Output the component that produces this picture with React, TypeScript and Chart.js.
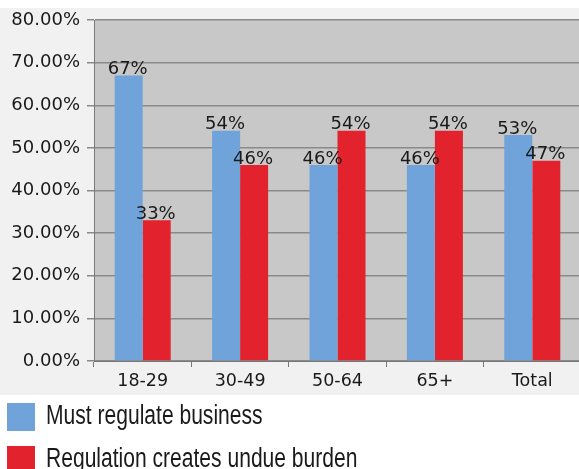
import React, { useEffect, useRef } from "react";
import { Chart, registerables } from "chart.js";

Chart.register(...registerables);

const categories = ["18-29", "30-49", "50-64", "65+", "Total"];
const mustRegulate = [67, 54, 46, 46, 53];
const undueBurden = [33, 46, 54, 54, 47];
const seriesNames = ["Must regulate business", "Regulation creates undue burden"];
const yMin = 0;
const yMax = 80;
const yStep = 10;

const BLUE = "#6fa3d9";
const RED = "#e2232d";
const seriesColors = [BLUE, RED];

const bgPlugin = {
  id: "bgPlugin",
  beforeDraw(chart: any) {
    const { ctx, chartArea, width, height } = chart;
    ctx.save();
    ctx.fillStyle = "#ffffff";
    ctx.fillRect(0, 0, width, height);
    ctx.fillStyle = "#f1f1f1";
    ctx.fillRect(0, 8, width, 387);
    ctx.fillStyle = "#c8c8c8";
    ctx.fillRect(chartArea.left, chartArea.top, chartArea.right - chartArea.left, chartArea.bottom - chartArea.top);
    ctx.restore();
  },
};

const labelPlugin = {
  id: "barLabels",
  afterDatasetsDraw(chart: any) {
    const ctx = chart.ctx;
    ctx.save();
    ctx.font = '18px "DejaVu Sans"';
    ctx.fillStyle = "#1a1a1a";
    ctx.textAlign = "center";
    ctx.textBaseline = "bottom";
    chart.data.datasets.forEach((ds: any, i: number) => {
      chart.getDatasetMeta(i).data.forEach((el: any, j: number) => {
        ctx.fillText(`${ds.data[j]}%`, el.x - 1, el.y + 3);
      });
    });
    ctx.restore();
  },
};

export default function App() {
  const ref = useRef<HTMLCanvasElement | null>(null);

  useEffect(() => {
    if (!ref.current) return;
    const chart = new Chart(ref.current, {
      type: "bar",
      data: {
        labels: categories,
        datasets: [
          { label: seriesNames[0], data: mustRegulate, backgroundColor: BLUE, borderWidth: 0 },
          { label: seriesNames[1], data: undueBurden, backgroundColor: RED, borderWidth: 0 },
        ],
      },
      options: {
        responsive: false,
        animation: false,
        devicePixelRatio: 1,
        layout: { padding: { top: 20, right: 9, left: 0, bottom: 81 } },
        datasets: { bar: { categoryPercentage: 0.575, barPercentage: 1 } },
        plugins: {
          tooltip: { enabled: false },
          legend: { display: false },
        },
        scales: {
          x: {
            grid: { drawOnChartArea: false, drawTicks: true, tickLength: 6, color: "#777777", offset: true },
            border: { color: "#777777", width: 1 },
            ticks: {
              color: "#1a1a1a",
              padding: 4,
              font: { family: "'DejaVu Sans'", size: 17.5 },
            },
            afterFit: (scale: any) => {
              scale.height = 27;
            },
          },
          y: {
            min: yMin,
            max: yMax,
            grid: { color: "#8a8a8a", lineWidth: 1.5, tickLength: 7 },
            border: { color: "#7a7a7a", width: 1 },
            ticks: {
              stepSize: yStep,
              color: "#1a1a1a",
              padding: 7,
              font: { family: "'DejaVu Sans'", size: 18 },
              callback: (v: any) => Number(v).toFixed(2) + "%",
            },
            afterFit: (scale: any) => {
              scale.width = 94;
            },
          },
        },
      },
      plugins: [bgPlugin, labelPlugin],
    });
    return () => chart.destroy();
  }, []);

  return (
    <div
      style={{
        position: "fixed",
        left: 0,
        top: 0,
        width: 579,
        height: 469,
        overflow: "hidden",
        background: "#ffffff",
      }}
    >
      <canvas
        ref={ref}
        width={590}
        height={469}
        style={{ position: "absolute", left: 0, top: 0, width: 590, height: 469 }}
      />
      {seriesNames.map((name, i) => (
        <div key={name}>
          <div
            style={{
              position: "absolute",
              left: 7,
              top: 403 + i * 43,
              width: 28,
              height: 28,
              background: seriesColors[i],
            }}
          />
          <div
            style={{
              position: "absolute",
              left: 46,
              top: 401.5 + i * 43,
              fontFamily: "'Liberation Sans', Arial, sans-serif",
              fontSize: 27,
              lineHeight: "27px",
              color: "#1a1a1a",
              whiteSpace: "nowrap",
              transform: "scaleX(0.78)",
              transformOrigin: "left top",
            }}
          >
            {name}
          </div>
        </div>
      ))}
    </div>
  );
}
